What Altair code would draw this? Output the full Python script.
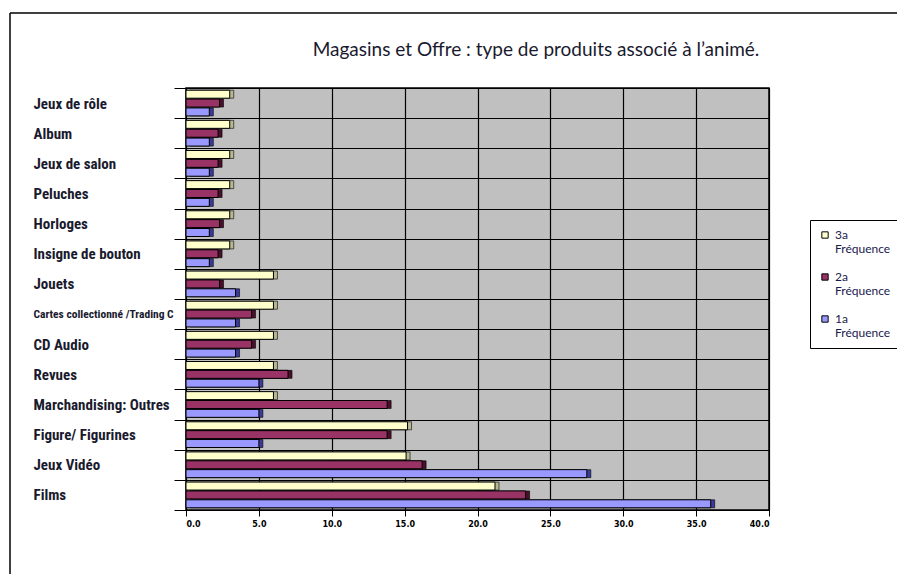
import altair as alt
import pandas as pd

categories = ["Jeux de rôle", "Album", "Jeux de salon", "Peluches", "Horloges",
              "Insigne de bouton", "Jouets", "Cartes collectionné /Trading C",
              "CD Audio", "Revues", "Marchandising: Outres", "Figure/ Figurines",
              "Jeux Vidéo", "Films"]
series = ["3a Fréquence", "2a Fréquence", "1a Fréquence"]
v3a = [3.0, 3.0, 3.0, 3.0, 3.0, 3.0, 6.0, 6.0, 6.0, 6.0, 6.0, 15.2, 15.1, 21.2]
v2a = [2.3, 2.2, 2.2, 2.2, 2.3, 2.2, 2.3, 4.5, 4.5, 7.0, 13.8, 13.8, 16.2, 23.3]
v1a = [1.6, 1.6, 1.6, 1.6, 1.6, 1.6, 3.4, 3.4, 3.4, 5.0, 5.0, 5.0, 27.5, 36.0]
colors = ["#FFFFCC", "#993366", "#9999FF"]
side_colors = ["#B8B890", "#4A0F2A", "#3A3A9A"]
x_ticks = [0, 5, 10, 15, 20, 25, 30, 35, 40]
title = ["Magasins et Offre : type de produits associé à l’animé."]

rows = []
for s, vals in zip(series, [v3a, v2a, v1a]):
    for c, v in zip(categories, vals):
        rows.append({"cat": c, "serie": s, "side": s + " ", "val": v})
df = pd.DataFrame(rows)
side_domain = [s + " " for s in series]

W, H = 583, 422
label_font = "Liberation Sans Narrow, Roboto Condensed, Roboto, sans-serif"

y_enc = alt.Y("cat:N", sort=categories, title=None,
              scale=alt.Scale(paddingInner=0.0, paddingOuter=0.0),
              axis=alt.Axis(labelAlign="left", labelPadding=141, tickSize=12,
                            tickBand="extent", grid=True, gridColor="#000000",
                            gridWidth=1.2, gridOpacity=1, domainColor="#000000",
                            tickColor="#000000", labelColor="#1a1a2e",
                            labelFont=label_font, labelFontWeight="bold",
                            labelFontSize=alt.expr("datum.value == 'Cartes collectionné /Trading C' ? 11.5 : 15"),
                            labelLimit=180))
x_enc = alt.X("val:Q", title=None,
              scale=alt.Scale(domain=[0, 40], nice=False),
              axis=alt.Axis(values=x_ticks, format=".1f", labelFontSize=8,
                            labelFont="DejaVu Sans", labelFontWeight="bold",
                            labelColor="#000000",
                            tickColor="#000000", domainColor="#000000",
                            grid=True, gridColor="#000000", gridWidth=1.2,
                            gridOpacity=1, tickSize=6, labelPadding=4))
yoff = alt.YOffset("serie:N", sort=series,
                   scale=alt.Scale(paddingInner=0.1, paddingOuter=0.25))

base = alt.Chart(df)
side = base.mark_bar(xOffset=4, yOffset=-3, stroke="#000000", strokeWidth=0.6).encode(
    y=y_enc, x=x_enc, yOffset=yoff,
    color=alt.Color("side:N", sort=side_domain,
                    scale=alt.Scale(domain=side_domain, range=side_colors), legend=None))
front = base.mark_bar(stroke="#000000", strokeWidth=1).encode(
    y=y_enc, x=x_enc, yOffset=yoff,
    color=alt.Color("serie:N", sort=series, title=None,
                    scale=alt.Scale(domain=series, range=colors),
                    legend=alt.Legend(orient="none", legendX=624, legendY=132,
                                      symbolType="square", symbolSize=40,
                                      symbolStrokeColor="#000000", symbolStrokeWidth=1,
                                      labelExpr="split(datum.label, ' ')",
                                      labelFontSize=12, labelFont="Lato",
                                      labelColor="#1a1a4e",
                                      rowPadding=16, padding=9,
                                      strokeColor="#000000", fillColor="#FFFFFF")))

title_layer = alt.Chart(pd.DataFrame({"t": title})).mark_text(
    font="Lato", fontSize=19, color="#1a1a2e", align="center", baseline="middle"
).encode(text="t:N", x=alt.value(350), y=alt.value(-38))

frame_top = alt.Chart(pd.DataFrame({"a": [0]})).mark_rule(color="#000000", strokeWidth=1.5).encode(
    x=alt.value(-176), x2=alt.value(740), y=alt.value(-75))
frame_left = alt.Chart(pd.DataFrame({"a": [0]})).mark_rule(color="#000000", strokeWidth=1.5).encode(
    x=alt.value(-176), y=alt.value(-75), y2=alt.value(500))

chart = alt.layer(frame_top, frame_left, title_layer, side, front).resolve_scale(
    color="independent"
).properties(
    width=W, height=H,
    padding={"left": 178, "top": 80, "right": 128, "bottom": 64},
    autosize=alt.AutoSizeParams(type="none"),
).configure_view(fill="#C0C0C0", stroke="#000000", strokeWidth=1.5)

chart.save("out.html", embed_options={"renderer": "svg", "actions": False})
